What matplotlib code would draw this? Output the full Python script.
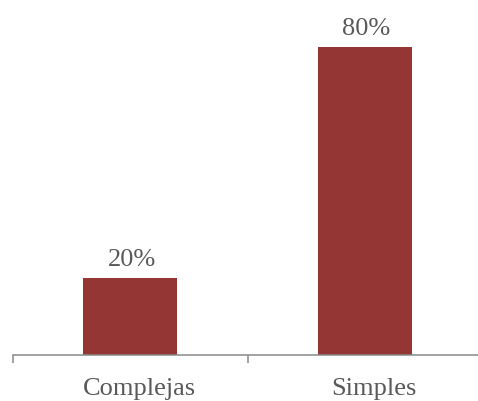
import matplotlib
matplotlib.use("Agg")
import matplotlib.pyplot as plt
from matplotlib.transforms import ScaledTranslation

categories = ["Complejas", "Simples"]
values = [20, 80]
value_labels = ["20%", "80%"]

bar_color = "#943634"
text_color = "#595959"
axis_color = "#898989"

plt.rcParams["font.family"] = ["Liberation Serif", "DejaVu Serif"]

fig = plt.figure(figsize=(4.78, 4.01), dpi=100)
ax = fig.add_axes([13 / 478, 46 / 401, 469 / 478, 346.5 / 401])

x = list(range(len(categories)))
bars = ax.bar(x, values, width=0.40, color=bar_color, zorder=2)

for b, lab in zip(bars, value_labels):
    ax.annotate(lab, (b.get_x() + b.get_width() / 2, b.get_height()),
                xytext=(1, 5), textcoords="offset points",
                ha="center", va="bottom", fontsize=19, color=text_color)

ax.set_xlim(-0.5, len(categories) - 0.5)
ax.set_ylim(0, 90)

for s in ["top", "right", "left"]:
    ax.spines[s].set_visible(False)
ax.spines["bottom"].set_color(axis_color)
ax.spines["bottom"].set_linewidth(1.1)

ax.set_yticks([])
ax.set_xticks(x)
ax.set_xticklabels(categories, fontsize=19, color=text_color)
ax.tick_params(axis="x", which="major", length=0, pad=16.5)
shift = ScaledTranslation(9 / 100, 0, fig.dpi_scale_trans)
for t in ax.get_xticklabels():
    t.set_transform(t.get_transform() + shift)
ax.set_xticks([i - 0.5 for i in range(len(categories) + 1)], minor=True)
ax.tick_params(axis="x", which="minor", length=6, width=1.1, color=axis_color,
               direction="out")

fig.savefig("out.png", dpi=100)
